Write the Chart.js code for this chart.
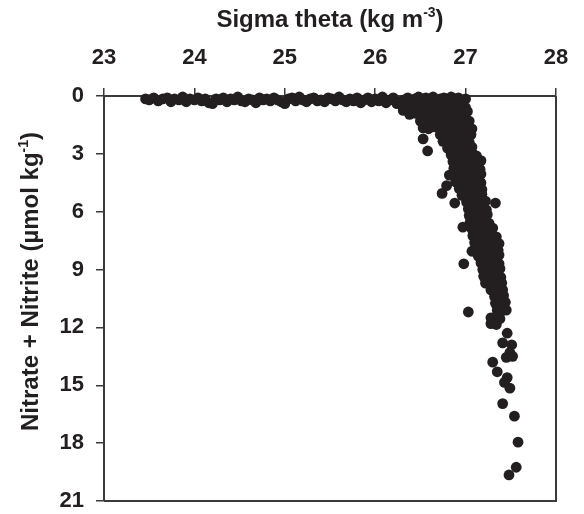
<!DOCTYPE html>
<html>
<head>
<meta charset="utf-8">
<script src="https://cdn.jsdelivr.net/npm/chart.js@4.4.1/dist/chart.umd.min.js"></script>
<style>
  html, body { margin: 0; padding: 0; background: #fff; }
  canvas { display: block; }
</style>
</head>
<body>
<canvas id="chart" width="584" height="514"></canvas>
<script>
// axis ticks
const sigmaTicks = [23, 24, 25, 26, 27, 28];
const nitrateTicks = [0, 3, 6, 9, 12, 15, 18, 21];

// [sigma theta, nitrate + nitrite]
// surface water, nitrate close to zero
const surfacePoints = [
  [23.46, 0.15], [23.50, 0.2], [23.55, 0.1], [23.60, 0.25], [23.65, 0.15], [23.70, 0.1],
  [23.74, 0.3], [23.78, 0.15], [23.83, 0.2], [23.87, 0.05], [23.91, 0.3], [23.95, 0.15],
  [24.00, 0.2], [24.04, 0.1], [24.08, 0.25], [24.12, 0.15], [24.16, 0.35], [24.20, 0.4],
  [24.24, 0.15], [24.28, 0.2], [24.32, 0.1], [24.36, 0.3], [24.40, 0.15], [24.44, 0.2],
  [24.48, 0.05], [24.52, 0.25], [24.56, 0.3], [24.60, 0.15], [24.64, 0.2], [24.68, 0.35],
  [24.72, 0.1], [24.76, 0.2], [24.80, 0.15], [24.84, 0.25], [24.88, 0.1], [24.92, 0.2],
  [24.96, 0.3], [25.00, 0.4], [25.04, 0.15], [25.08, 0.1], [25.12, 0.25], [25.16, 0.05],
  [25.20, 0.2], [25.24, 0.3], [25.28, 0.15], [25.32, 0.1], [25.36, 0.25], [25.40, 0.2],
  [25.44, 0.3], [25.48, 0.1], [25.52, 0.15], [25.56, 0.25], [25.60, 0.05], [25.64, 0.2],
  [25.68, 0.3], [25.72, 0.15], [25.76, 0.25], [25.80, 0.1], [25.84, 0.35], [25.88, 0.2],
  [25.92, 0.1], [25.96, 0.3], [26.00, 0.15], [26.04, 0.25], [26.08, 0.05], [26.12, 0.35],
  [26.16, 0.2], [26.20, 0.1], [26.24, 0.4], [26.28, 0.3]
];

// dense cluster at the base of the mixed layer
const clusterPoints = [
  [26.32, 0.2], [26.36, 0.1], [26.40, 0.3], [26.44, 0.15], [26.48, 0.05], [26.52, 0.25],
  [26.56, 0.1], [26.60, 0.2], [26.64, 0.05], [26.68, 0.3], [26.72, 0.15], [26.76, 0.1],
  [26.80, 0.25], [26.84, 0.05], [26.88, 0.2], [26.92, 0.1], [26.96, 0.3], [27.00, 0.15],
  [26.30, 0.5], [26.35, 0.6], [26.41, 0.55], [26.47, 0.65], [26.53, 0.5], [26.59, 0.6],
  [26.65, 0.55], [26.71, 0.5], [26.77, 0.65], [26.83, 0.55], [26.89, 0.6], [26.95, 0.5],
  [27.00, 0.6],
  [26.31, 0.75], [26.38, 0.95], [26.45, 0.9], [26.51, 0.85], [26.57, 0.95], [26.63, 0.9],
  [26.69, 0.85], [26.75, 0.95], [26.81, 0.9], [26.87, 0.85], [26.93, 0.95], [26.99, 0.9],
  [27.02, 0.8],
  [26.50, 1.3], [26.56, 1.25], [26.62, 1.35], [26.68, 1.3], [26.74, 1.2], [26.80, 1.35],
  [26.86, 1.3], [26.92, 1.25], [26.98, 1.35], [27.04, 1.3],
  [26.53, 1.65], [26.59, 1.7], [26.66, 1.6], [26.72, 1.7], [26.78, 1.65], [26.84, 1.6],
  [26.90, 1.7], [26.96, 1.65], [27.02, 1.6], [27.07, 1.7],
  [26.72, 2.0], [26.78, 2.05], [26.84, 1.95], [26.90, 2.0], [26.96, 2.05], [27.02, 1.95],
  [27.06, 2.0],
  [26.75, 2.35], [26.81, 2.3], [26.87, 2.4], [26.93, 2.35], [26.99, 2.3], [27.04, 2.4],
  [26.80, 2.7], [26.86, 2.75], [26.92, 2.65], [26.98, 2.7], [27.03, 2.75], [27.07, 2.65],
  [26.53, 2.22], [26.58, 2.85]
];

// nitracline band
const bandPoints = [
  [26.84, 3.05], [26.90, 3.0], [26.96, 3.1], [27.02, 3.05], [27.08, 3.0], [27.12, 3.1],
  [26.86, 3.4], [26.92, 3.45], [26.98, 3.35], [27.04, 3.4], [27.10, 3.45], [27.17, 3.35],
  [26.87, 3.75], [26.93, 3.7], [26.99, 3.8], [27.05, 3.75], [27.11, 3.7], [27.16, 3.8],
  [26.88, 4.1], [26.94, 4.15], [27.00, 4.05], [27.06, 4.1], [27.12, 4.15], [27.17, 4.05],
  [26.89, 4.45], [26.95, 4.4], [27.01, 4.5], [27.07, 4.45], [27.13, 4.4], [27.17, 4.5],
  [26.93, 4.8], [26.99, 4.85], [27.05, 4.75], [27.11, 4.8], [27.18, 4.85],
  [26.96, 5.15], [27.02, 5.1], [27.08, 5.2], [27.13, 5.15], [27.18, 5.1],
  [27.01, 5.5], [27.07, 5.45], [27.12, 5.55], [27.17, 5.5], [27.22, 5.45],
  [27.03, 5.85], [27.09, 5.9], [27.14, 5.8], [27.19, 5.85], [27.23, 5.9],
  [27.04, 6.2], [27.10, 6.15], [27.15, 6.25], [27.20, 6.2], [27.24, 6.15],
  [27.05, 6.55], [27.11, 6.6], [27.16, 6.5], [27.21, 6.55], [27.26, 6.6],
  [27.07, 6.9], [27.13, 6.85], [27.18, 6.95], [27.24, 6.9], [27.30, 6.85],
  [27.08, 7.25], [27.14, 7.3], [27.20, 7.2], [27.26, 7.25], [27.34, 7.3],
  [27.10, 7.6], [27.16, 7.55], [27.22, 7.65], [27.28, 7.6], [27.33, 7.55], [27.37, 7.65],
  [27.12, 7.95], [27.18, 8.0], [27.24, 7.9], [27.30, 7.95], [27.36, 8.0],
  [27.14, 8.3], [27.20, 8.25], [27.26, 8.35], [27.32, 8.3], [27.37, 8.25],
  [27.17, 8.65], [27.23, 8.7], [27.29, 8.6], [27.34, 8.65], [27.37, 8.7],
  [27.19, 9.0], [27.25, 8.95], [27.31, 9.05], [27.36, 9.0], [27.38, 8.95],
  [27.20, 9.35], [27.26, 9.4], [27.32, 9.3], [27.37, 9.35], [27.39, 9.4],
  [27.22, 9.7], [27.28, 9.65], [27.34, 9.75], [27.40, 9.7],
  [27.28, 10.05], [27.33, 10.1], [27.38, 10.0], [27.41, 10.05],
  [27.32, 10.4], [27.37, 10.45], [27.42, 10.35],
  [27.33, 10.75], [27.38, 10.8], [27.44, 10.7],
  [27.35, 11.1], [27.40, 11.15], [27.45, 11.1],
  [27.28, 11.5], [27.33, 11.45], [27.38, 11.55],
  [27.28, 11.8], [27.34, 11.85],
  [26.82, 4.1], [26.79, 4.65], [26.74, 5.05], [26.88, 5.55], [26.97, 6.8], [27.07, 8.05],
  [26.98, 8.7], [27.03, 11.2], [27.33, 5.55]
];

// deep samples
const deepPoints = [
  [27.46, 12.3], [27.41, 12.8], [27.51, 12.9], [27.49, 13.3], [27.45, 13.55], [27.52, 13.5],
  [27.30, 13.8], [27.35, 14.3], [27.46, 14.6], [27.43, 14.85], [27.49, 15.15], [27.41, 15.95],
  [27.54, 16.6], [27.58, 17.95], [27.56, 19.25], [27.48, 19.65]
];

const ink = '#231f20';
const axisColor = '#3a3a3a';
const fontFamily = '"Liberation Sans", Arial, Helvetica, sans-serif';

const allPoints = surfacePoints.concat(clusterPoints, bandPoints, deepPoints)
  .map(p => ({ x: p[0], y: p[1] }));

// draws the right/bottom frame and the two axis titles (with superscripts)
const framePlugin = {
  id: 'frame',
  beforeDatasetsDraw(chart) {
    const { ctx, chartArea: a } = chart;
    ctx.save();
    ctx.strokeStyle = axisColor;
    ctx.lineWidth = 2;
    ctx.beginPath();
    ctx.moveTo(a.left, a.bottom);
    ctx.lineTo(a.right, a.bottom);
    ctx.lineTo(a.right, a.top);
    ctx.stroke();
    ctx.restore();
  },
  afterDraw(chart) {
    const { ctx, chartArea: a } = chart;
    const big = 'bold 24px ' + fontFamily;
    const small = 'bold 14px ' + fontFamily;

    function drawWithSup(before, sup, after, cx, baseY) {
      ctx.font = big;
      const w1 = ctx.measureText(before).width;
      const w3 = ctx.measureText(after).width;
      ctx.font = small;
      const w2 = ctx.measureText(sup).width;
      let x = cx - (w1 + w2 + w3) / 2;
      ctx.textAlign = 'left';
      ctx.textBaseline = 'alphabetic';
      ctx.font = big;
      ctx.fillText(before, x, baseY);
      x += w1;
      ctx.font = small;
      ctx.fillText(sup, x, baseY - 10);
      x += w2;
      ctx.font = big;
      ctx.fillText(after, x, baseY);
    }

    ctx.save();
    ctx.fillStyle = ink;
    drawWithSup('Sigma theta (kg m', '-3', ')', (a.left + a.right) / 2, 27);
    ctx.restore();

    ctx.save();
    ctx.fillStyle = ink;
    ctx.translate(38, 281.5);
    ctx.rotate(-Math.PI / 2);
    drawWithSup('Nitrate + Nitrite (\u00b5mol kg', '-1', ')', 0, 0);
    ctx.restore();
  }
};

new Chart(document.getElementById('chart'), {
  type: 'scatter',
  data: {
    datasets: [{
      data: allPoints,
      backgroundColor: ink,
      borderWidth: 0,
      pointRadius: 5.4,
      pointHoverRadius: 5.4,
      clip: false
    }]
  },
  options: {
    responsive: false,
    animation: false,
    events: [],
    layout: { padding: { top: 0, left: 0, right: 28, bottom: 13 } },
    plugins: {
      legend: { display: false },
      tooltip: { enabled: false }
    },
    scales: {
      x: {
        type: 'linear',
        position: 'top',
        min: sigmaTicks[0],
        max: sigmaTicks[sigmaTicks.length - 1],
        afterBuildTicks: s => { s.ticks = sigmaTicks.map(v => ({ value: v })); },
        afterFit: s => { s.height = 96; s.paddingLeft = 0; s.paddingRight = 0; },
        ticks: {
          color: ink,
          padding: 17,
          font: { family: fontFamily, size: 22, weight: 'bold' }
        },
        grid: { drawOnChartArea: false, tickLength: 8, color: axisColor, lineWidth: 1.5 },
        border: { color: axisColor, width: 2 }
      },
      y: {
        type: 'linear',
        position: 'left',
        reverse: true,
        min: nitrateTicks[0],
        max: nitrateTicks[nitrateTicks.length - 1],
        afterBuildTicks: s => { s.ticks = nitrateTicks.map(v => ({ value: v })); },
        afterFit: s => { s.width = 104; s.paddingTop = 0; s.paddingBottom = 0; },
        ticks: {
          color: ink,
          padding: 12,
          font: { family: fontFamily, size: 22, weight: 'bold' }
        },
        grid: { drawOnChartArea: false, tickLength: 8, color: axisColor, lineWidth: 1.5 },
        border: { color: axisColor, width: 2 }
      }
    }
  },
  plugins: [framePlugin]
});
</script>
</body>
</html>
